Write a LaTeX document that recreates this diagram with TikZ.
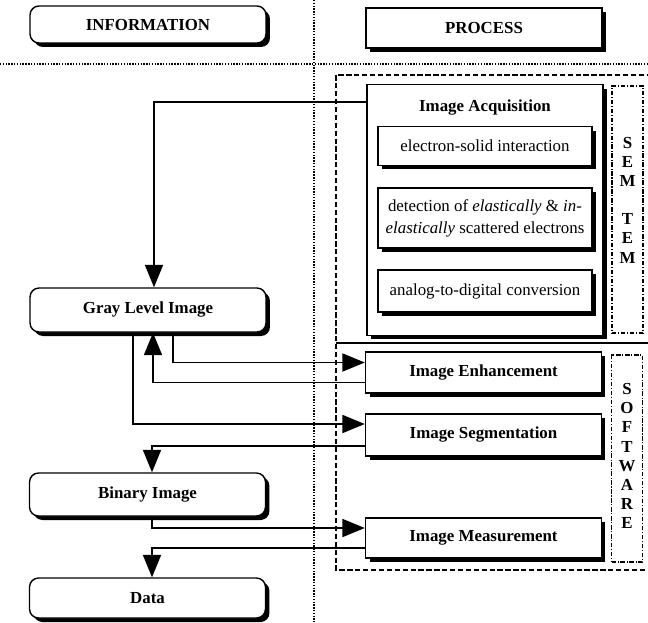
\documentclass[tikz,border=0pt]{standalone}
\usepackage{fontspec}
\setmainfont{Liberation Serif}
\usetikzlibrary{arrows.meta,positioning,shadows}

\begin{document}
\begin{tikzpicture}[x=0.02cm, y=-0.02cm,
    every node/.style={font=\fontsize{9.6}{11.5}\selectfont},
    boxshadow/.style={drop shadow={shadow xshift=0.08cm, shadow yshift=-0.08cm, fill=black, opacity=1}},
    infobox/.style={draw, line width=0.8pt, fill=white, rounded corners=0.18cm, minimum width=4.72cm, boxshadow, font=\fontsize{9.6}{11.5}\selectfont\bfseries},
    procbox/.style={draw, line width=0.8pt, fill=white, minimum width=4.72cm, boxshadow, font=\fontsize{9.6}{11.5}\selectfont\bfseries},
    stepbox/.style={draw, line width=0.7pt, fill=white, minimum width=4.28cm, boxshadow, align=center},
    sidebox/.style={draw, line width=0.8pt, dash pattern=on 2.5pt off 1pt on 0.6pt off 1pt, minimum width=0.62cm, inner sep=0pt},
    sidetext/.style={align=center, inner sep=0pt, font=\fontsize{9.6}{10.9}\selectfont\bfseries},
    flow/.style={line width=1.1pt, -{Triangle[length=0.45cm, width=0.36cm]}},
    sepline/.style={line width=0.8pt, dash pattern=on 0.8pt off 0.8pt}]
    \useasboundingbox (0,0) rectangle (648,622);

    \draw[sepline] (314,0) -- (314,622);
    \draw[sepline] (0,64) -- (648,64);
    \draw[line width=0.8pt, dash pattern=on 3pt off 1.5pt] (652,75) -- (336,75) -- (336,570) -- (652,570);
    \draw[line width=0.6pt] (336,343) -- (648,343);

    \node[infobox, minimum height=0.74cm] (info) at (148,24.5) {INFORMATION};
    \node[procbox, minimum height=0.8cm] (proc) at (484,28) {PROCESS};

    \node[procbox, minimum height=5.02cm] (acq) at (485,210) {};
    \node[below=0.2cm of acq.north, font=\fontsize{9.6}{11.5}\selectfont\bfseries] (acqtitle) {Image Acquisition};
    \node[stepbox, minimum height=0.78cm] (elec) at (485,146) {electron-solid interaction};
    \node[stepbox, minimum height=1.2cm, font=\fontsize{9.6}{12.5}\selectfont] (detect) at (485,218) {detection of \textit{elastically} \& \textit{in-}\\\textit{elastically} scattered electrons};
    \node[stepbox, minimum height=0.84cm] (adc) at (485,291) {analog-to-digital conversion};
    \node[sidebox, minimum height=4.94cm] (sem) at (627.5,209.5) {};
    \node[sidetext] (semtext) at (627.5,200) {S\\E\\M\\[10.9pt]T\\E\\M};

    \node[procbox, minimum height=0.82cm] (enh) at (483.5,372.5) {Image Enhancement};
    \node[procbox, minimum height=0.84cm] (seg) at (483.5,435) {Image Segmentation};
    \node[procbox, minimum height=0.8cm] (meas) at (483.5,538) {Image Measurement};
    \node[sidebox, minimum height=4.14cm] (soft) at (627,458.5) {};
    \node[sidetext] (softtext) at (627,456) {S\\O\\F\\T\\W\\A\\R\\E};

    \node[infobox, minimum height=0.88cm] (gray) at (148,310) {Gray Level Image};
    \node[infobox, minimum height=0.86cm] (bin) at (147.5,494.5) {Binary Image};
    \node[infobox, minimum height=0.8cm] (data) at (147.5,598) {Data};

    \draw[flow] ([yshift=-0.36cm]acq.north west) -| ([xshift=0.12cm]gray.north);
    \draw[flow] ([xshift=0.5cm]gray.south) |- ([yshift=0.2cm]enh.west);
    \draw[flow] ([yshift=-0.2cm]enh.west) -| ([xshift=0.1cm]gray.south);
    \draw[flow] ([xshift=-0.3cm]gray.south) |- ([yshift=0.22cm]seg.west);
    \draw[flow] ([yshift=-0.22cm]seg.west) -| ([xshift=0.09cm]bin.north);
    \draw[flow] ([xshift=0.09cm]bin.south) |- ([yshift=0.2cm]meas.west);
    \draw[flow] ([yshift=-0.2cm]meas.west) -| ([xshift=0.09cm]data.north);
  \end{tikzpicture}
\end{document}
